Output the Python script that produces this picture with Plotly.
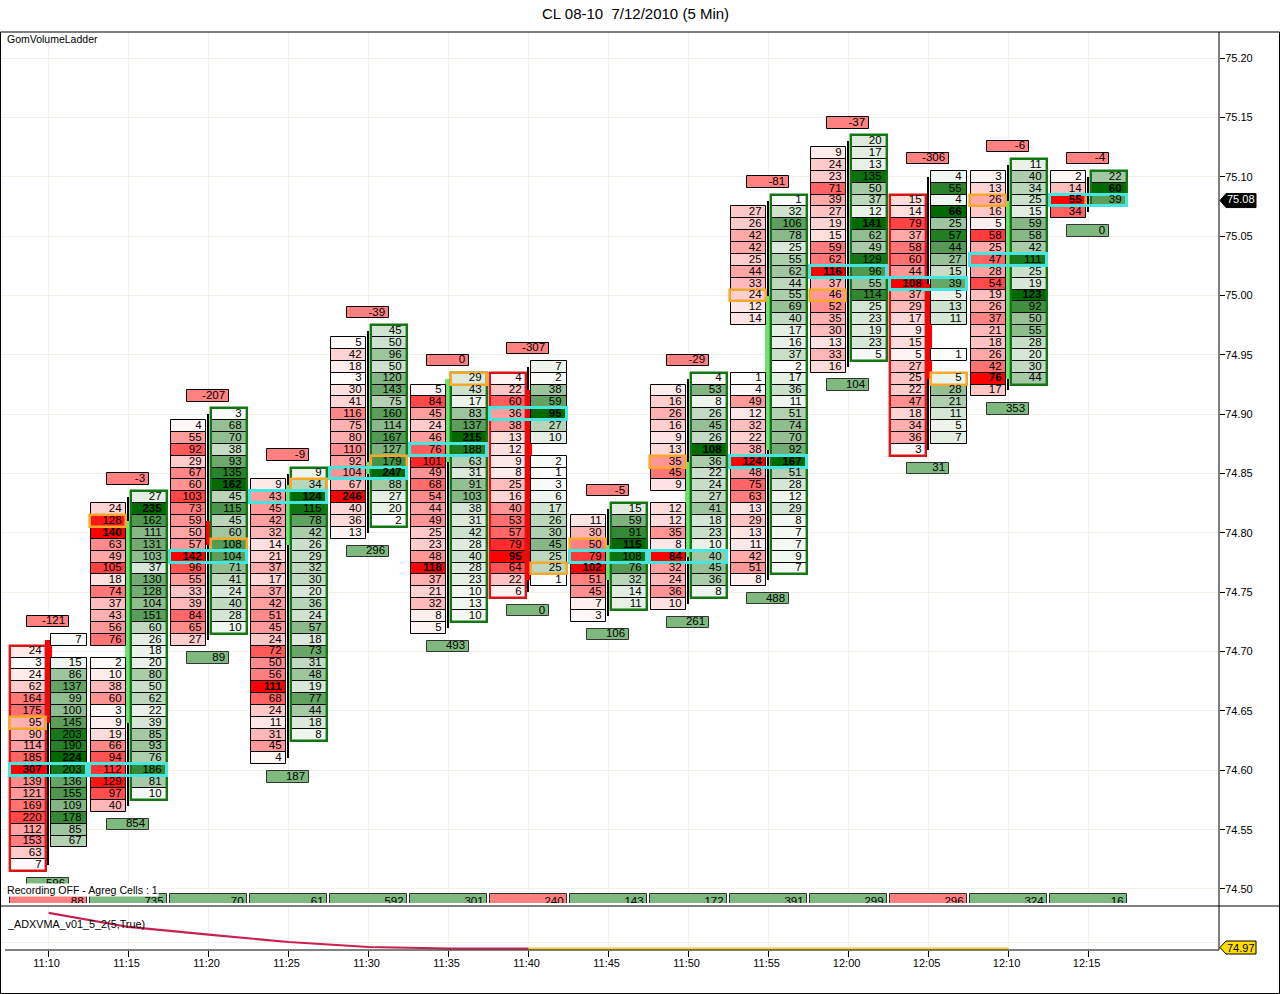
import plotly.graph_objects as go

# bar labels
times = ["11:10", "11:15", "11:20", "11:25", "11:30", "11:35", "11:40",
         "11:45", "11:50", "11:55", "12:00", "12:05", "12:10", "12:15"]
price_ticks = [75.20, 75.15, 75.10, 75.05, 75.00, 74.95, 74.90, 74.85,
               74.80, 74.75, 74.70, 74.65, 74.60, 74.55, 74.50]

# ladder volumes, top row first (None = no trades at that price)
bid_tops = [74.70, 74.82, 74.89, 74.84, 74.96, 74.92, 74.93, 74.81, 74.92, 75.07, 75.12, 75.08, 75.10, 75.10]
ask_tops = [74.71, 74.83, 74.90, 74.85, 74.97, 74.93, 74.94, 74.82, 74.93, 75.08, 75.13, 75.10, 75.11, 75.10]

bid_0 = [24, 3, 24, 62, 164, 175, 95, 90, 114, 185, 307, 139, 121, 169, 220, 112, 153, 63, 7]
ask_0 = [7, None, 15, 86, 137, 99, 100, 145, 203, 190, 224, 203, 136, 155, 109, 178, 85, 67]
bid_1 = [24, 128, 140, 63, 49, 105, 18, 74, 37, 43, 56, 76, None, 2, 10, 38, 60, 3, 9, 19, 66, 94, 112, 129, 97, 40]
ask_1 = [27, 235, 162, 111, 131, 103, 37, 130, 128, 104, 151, 60, 26, 18, 20, 80, 50, 62, 22, 39, 85, 93, 76, 186, 81, 10]
bid_2 = [4, 55, 92, 29, 67, 60, 103, 73, 59, 50, 57, 142, 96, 55, 33, 39, 84, 65, 27]
ask_2 = [3, 68, 70, 38, 93, 135, 162, 45, 115, 45, 60, 108, 104, 71, 41, 24, 40, 28, 10]
bid_3 = [9, 43, 45, 42, 32, 14, 21, 37, 17, 37, 42, 51, 45, 24, 72, 50, 56, 111, 68, 24, 11, 31, 45, 4]
ask_3 = [9, 34, 124, 115, 78, 42, 26, 29, 32, 30, 20, 36, 24, 57, 18, 73, 31, 48, 19, 77, 44, 18, 8]
bid_4 = [5, 42, 18, 3, 30, 41, 116, 75, 80, 110, 92, 104, 67, 246, 40, 36, 13]
ask_4 = [45, 50, 96, 50, 120, 143, 75, 160, 114, 167, 127, 179, 247, 88, 27, 20, 2]
bid_5 = [5, 84, 45, 24, 46, 76, 101, 49, 68, 54, 44, 49, 25, 23, 48, 118, 37, 21, 32, 8, 5]
ask_5 = [29, 43, 17, 83, 137, 215, 188, 63, 31, 91, 103, 38, 31, 42, 28, 40, 28, 23, 10, 13, 10]
bid_6 = [4, 22, 60, 36, 38, 13, 12, 9, 8, 25, 16, 40, 53, 57, 79, 95, 64, 22, 6]
ask_6 = [7, 2, 38, 59, 95, 27, 10, None, 2, 1, 3, 6, 17, 26, 30, 45, 25, 25, 1]
bid_7 = [11, 30, 50, 79, 102, 51, 45, 7, 3]
ask_7 = [15, 59, 91, 115, 108, 76, 32, 14, 11]
bid_8 = [6, 16, 26, 16, 9, 13, 35, 45, 9, None, 12, 12, 35, 8, 84, 32, 24, 36, 10]
ask_8 = [4, 53, 8, 26, 45, 26, 108, 36, 22, 24, 27, 41, 18, 23, 10, 40, 45, 36, 8]
bid_9 = [27, 26, 42, 42, 25, 44, 33, 24, 12, 14, None, None, None, None,
         1, 4, 49, 12, 32, 22, 38, 124, 48, 75, 63, 13, 29, 13, 11, 42, 51, 8]
ask_9 = [1, 32, 106, 78, 25, 55, 62, 44, 55, 69, 40, 17, 16, 37, 2, 17, 36, 11, 51, 74,
         70, 92, 167, 51, 28, 12, 29, 8, 7, 7, 9, 7]
bid_10 = [9, 24, 23, 71, 39, 27, 19, 15, 59, 62, 116, 37, 46, 52, 35, 30, 13, 33, 16]
ask_10 = [20, 17, 13, 135, 50, 37, 12, 141, 62, 49, 129, 96, 55, 114, 25, 23, 19, 23, 5]
bid_11 = [15, 14, 79, 37, 58, 60, 44, 108, 37, 29, 17, 9, 15, 5, 27, 25, 22, 47, 18, 34, 36, 3]
ask_11 = [4, 55, 4, 66, 25, 57, 44, 27, 15, 39, 5, 13, 11, None, None, 1, None, 5, 28, 21, 11, 5, 7]
bid_12 = [3, 13, 26, 16, 5, 58, 25, 47, 28, 54, 19, 26, 37, 21, 18, 26, 42, 76, 17]
ask_12 = [11, 40, 34, 25, 15, 59, 58, 42, 111, 25, 19, 123, 92, 50, 55, 28, 20, 30, 44]
bid_13 = [2, 14, 55, 34]
ask_13 = [22, 60, 39]

# candle behind the ladder
opens = [74.71, 74.64, 74.81, 74.79, 74.85, 74.86, 74.92, 74.76, 74.78, 74.87, 75.00, 75.01, 74.93, 75.08]
closes = [74.64, 74.81, 74.79, 74.84, 74.86, 74.93, 74.76, 74.79, 74.86, 75.00, 75.00, 74.93, 75.08, 75.08]
highs = [74.71, 74.83, 74.90, 74.85, 74.97, 74.93, 74.94, 74.82, 74.93, 75.08, 75.13, 75.10, 75.11, 75.10]
lows = [74.52, 74.57, 74.71, 74.61, 74.80, 74.72, 74.75, 74.73, 74.74, 74.76, 74.94, 74.87, 74.92, 75.07]

# highlighted cells
poc_prices = [74.60, 74.60, 74.78, 74.83, 74.85, 74.87, 74.90, 74.78, 74.78, 74.86, 75.02, 75.01, 75.03, 75.08]
mid_prices = [74.64, 74.81, 74.79, 74.84, 74.86, 74.93, 74.77, 74.79, 74.86, 75.00, 75.00, 74.93, 75.08, 75.08]
mid_sides = ["bid", "bid", "ask", "ask", "ask", "ask", "ask", "bid", "bid", "bid", "bid", "ask", "bid", "bid"]
frame_sides = ["bid", "ask", "ask", "ask", "ask", "ask", "bid", "ask", "ask", "ask", "ask", "bid", "ask", "ask"]

# summary boxes
delta_labels = ["-121", "-3", "-207", "-9", "-39", "0", "-307", "-5", "-29", "-81", "-37", "-306", "-6", "-4"]
volume_labels = ["596", "854", "89", "187", "296", "493", "0", "106", "261", "488", "104", "31", "353", "0"]
total_labels = ["88", "735", "70", "61", "592", "301", "240", "143", "172", "391", "299", "296", "324", "16"]
total_red = ["88", "240", "296"]

# lower panel
adx_red_x = [0, 1, 2, 3, 4, 5, 6]
adx_red_y = [75.18, 75.096, 75.05, 75.006, 74.976, 74.967, 74.967]
adx_yellow_x = [6, 7, 8, 9, 10, 11, 12]
adx_yellow_y = [74.967, 74.967, 74.967, 74.967, 74.967, 74.967, 74.967]

bids = [bid_0, bid_1, bid_2, bid_3, bid_4, bid_5, bid_6, bid_7, bid_8, bid_9, bid_10, bid_11, bid_12, bid_13]
asks = [ask_0, ask_1, ask_2, ask_3, ask_4, ask_5, ask_6, ask_7, ask_8, ask_9, ask_10, ask_11, ask_12, ask_13]

FONT = "Liberation Sans"
W, H = 1280, 994
PX = 1 / 80       # one pixel in bar units
ROW = 0.01        # one tick


def cell_color(value, top, end):
    t = value / top
    return "rgb(%d,%d,%d)" % tuple(round(255 + (c - 255) * t) for c in end)


def paper_x(px):
    return px / W


def paper_y(py):
    return 1 - py / H


fig = go.Figure()


def add_boxes(x, low, high, width, fill, line, line_width, axis_y="y"):
    fig.add_trace(go.Bar(x=x, y=[h - l for h, l in zip(high, low)], base=low, width=width,
                         marker=dict(color=fill, line=dict(color=line, width=line_width)),
                         yaxis=axis_y, hoverinfo="skip"))


def add_labels(x, y, text, size=11.5):
    fig.add_trace(go.Scatter(x=x, y=y, text=text, mode="text", textposition="middle left",
                             textfont=dict(family=FONT, size=size, color="black"),
                             cliponaxis=True, hoverinfo="skip"))


# candles first so the cells sit on top
bars = list(range(len(times)))
add_boxes(bars, lows, highs, 1.6 * PX, "black", "black", 0)
body_x = [i for i in bars if opens[i] != closes[i]]
add_boxes(body_x, [min(opens[i], closes[i]) for i in body_x], [max(opens[i], closes[i]) for i in body_x],
          6.5 * PX, ["#70e070" if closes[i] > opens[i] else "#ff0000" for i in body_x], "#70e070", 0)

# ladder cells
cell_x, cell_low, cell_high, cell_fill = [], [], [], []
text_x, text_y, text_val = [], [], []
for i in bars:
    for values, top, offset, end, tip in ((bids[i], bid_tops[i], -20.2, (255, 0, 0), -7),
                                          (asks[i], ask_tops[i], 20.2, (0, 105, 0), 33)):
        biggest = max(v for v in values if v is not None)
        for n, v in enumerate(values):
            if v is None:
                continue
            price = top - n * ROW
            cell_x.append(i + offset * PX)
            cell_low.append(price - ROW / 2)
            cell_high.append(price + ROW / 2)
            cell_fill.append(cell_color(v, biggest, end))
            text_x.append(i + tip * PX)
            text_y.append(price)
            text_val.append("<b>%d</b>" % v if v == biggest else str(v))
add_boxes(cell_x, cell_low, cell_high, 35.4 * PX, cell_fill, "black", 1)

# frame round the winning side of each bar
fx, flow, fhigh, fline = [], [], [], []
for i in bars:
    side = frame_sides[i]
    values = bids[i] if side == "bid" else asks[i]
    top = bid_tops[i] if side == "bid" else ask_tops[i]
    fx.append(i + (-20.2 if side == "bid" else 20.2) * PX)
    flow.append(top - (len(values) - 1) * ROW - ROW / 2)
    fhigh.append(top + ROW / 2)
    fline.append("#d81414" if side == "bid" else "#127612")
add_boxes(fx, flow, fhigh, 36 * PX, "rgba(0,0,0,0)", fline, 2.4)

# orange mid-range cell, cyan point of control
add_boxes([i + (-20.2 if mid_sides[i] == "bid" else 20.2) * PX for i in bars],
          [p - ROW / 2 for p in mid_prices], [p + ROW / 2 for p in mid_prices],
          36 * PX, "rgba(0,0,0,0)", "#f5a82a", 2.6)
add_boxes(bars, [p - ROW / 2 for p in poc_prices], [p + ROW / 2 for p in poc_prices],
          77 * PX, "rgba(0,0,0,0)", "#45e6e0", 3)

# summary boxes above, below and along the bottom
top_y = [max(ask_tops[i], bid_tops[i]) + 0.0155 for i in bars]
low_y = []
for i in bars:
    bid_low = bid_tops[i] - (len(bids[i]) - 1) * ROW
    ask_low = ask_tops[i] - (len(asks[i]) - 1) * ROW
    low_y.append(min(bid_low, ask_low) - 0.0155)
box_x = [i - 0.7 * PX for i in bars]
add_boxes(box_x, [y - 0.0048 for y in top_y], [y + 0.0048 for y in top_y], 41.5 * PX, "#ff8080", "black", 1)
add_boxes(box_x, [y - 0.0048 for y in low_y], [y + 0.0048 for y in low_y], 41.5 * PX, "#7fb97f", "#333333", 1)
total_low = 74.4958 - 0.012
add_boxes(bars, [total_low] * len(bars), [74.4958] * len(bars), 77 * PX,
          ["#ff8080" if t in total_red else "#7fb97f" for t in total_labels], "#333333", 1)

add_labels(text_x, text_y, text_val)
label_x = [i + 16.5 * PX for i in bars]
add_labels(label_x, top_y, delta_labels)
add_labels(label_x, low_y, volume_labels)
add_labels([i + 35 * PX for i in bars], [74.4888] * len(bars), total_labels)

# indicator panel
fig.add_trace(go.Scatter(x=adx_red_x, y=adx_red_y, mode="lines", yaxis="y2",
                         line=dict(color="#c8204f", width=2.2), hoverinfo="skip"))
fig.add_trace(go.Scatter(x=adx_yellow_x, y=adx_yellow_y, mode="lines", yaxis="y2",
                         line=dict(color="#ffcc22", width=2.2), hoverinfo="skip"))

grid = "#f3f0e8"
frame_lines = [
    (0.5, 32, 1279.5, 32), (0.5, 32, 0.5, 993.5), (0.5, 993.5, 1279.5, 993.5), (1279.5, 32, 1279.5, 993.5),
    (0.5, 906, 1279.5, 906), (5, 950, 1219, 950), (1219, 32, 1219, 950),
]
shapes = [dict(type="line", xref="paper", yref="paper", x0=paper_x(a), y0=paper_y(b), x1=paper_x(c), y1=paper_y(d),
               line=dict(color="black", width=1)) for a, b, c, d in frame_lines]
# price tags, the yellow one hangs below the panel so it goes on paper
shapes.append(dict(type="path", xref="paper", yref="y", xsizemode="pixel", ysizemode="pixel",
                   xanchor=paper_x(1220), yanchor=75.08, path="M 0 0 L 6 -7 L 36 -7 L 36 7 L 6 7 Z",
                   fillcolor="black", line=dict(color="black", width=1)))
shapes.append(dict(type="path", xref="paper", yref="paper", xsizemode="pixel", ysizemode="pixel",
                   xanchor=paper_x(1220), yanchor=paper_y(947.5), path="M 0 0 L 6 -6.5 L 36 -6.5 L 36 6.5 L 6 6.5 Z",
                   fillcolor="#ffdd00", line=dict(color="black", width=1)))


def note(text, px, py, size=11, color="black", bg=None, anchor="left"):
    return dict(text=text, xref="paper", yref="paper", x=paper_x(px), y=paper_y(py), xanchor=anchor, yanchor="middle",
                showarrow=False, font=dict(family=FONT, size=size, color=color), bgcolor=bg, borderpad=0)


fig.update_layout(
    width=W, height=H, margin=dict(l=0, r=0, t=0, b=0), showlegend=False,
    paper_bgcolor="white", plot_bgcolor="white", barmode="overlay", bargap=0,
    shapes=shapes,
    annotations=[
        note("CL 08-10&nbsp;&nbsp;7/12/2010 (5 Min)", 635, 13.5, size=15, anchor="center"),
        note("GomVolumeLadder", 6, 39, size=10.5),
        note("Recording OFF - Agreg Cells : 1", 6, 889.5, size=10.6, bg="white"),
        note("_ADXVMA_v01_5_2(5,True)", 6, 924, size=10.8),
        note("75.08", 1226, 199, size=11, color="white"),
        note("74.97", 1226, 948, size=11),
    ],
    xaxis=dict(domain=[0, paper_x(1219)], range=[-48.6 * PX, (1219 - 48.6) * PX], anchor="y2",
               tickvals=bars, ticktext=times, ticks="outside", ticklen=6, tickcolor="black",
               ticklabelstandoff=-3, ticklabelshift=-2,
               tickfont=dict(family=FONT, size=11, color="black"), showgrid=True, gridcolor=grid,
               zeroline=False, showline=False),
    yaxis=dict(domain=[paper_y(903), paper_y(32)], range=[74.4882, 75.2220], anchor="x", side="right",
               tickvals=price_ticks, ticktext=["%.2f" % p for p in price_ticks], ticks="outside", ticklen=5,
               ticklabelstandoff=-2,
               tickcolor="black", tickfont=dict(family=FONT, size=11, color="black"),
               showgrid=True, gridcolor=grid, zeroline=False, showline=False),
    yaxis2=dict(domain=[paper_y(950), paper_y(906)], range=[74.958, 75.2215], anchor="x",
                tickvals=[75.00], showticklabels=False, ticks="", showgrid=True, gridcolor=grid,
                zeroline=False, showline=False),
)

fig.write_html("out.html", config={"displayModeBar": False}, post_script="document.body.style.margin='0';")
